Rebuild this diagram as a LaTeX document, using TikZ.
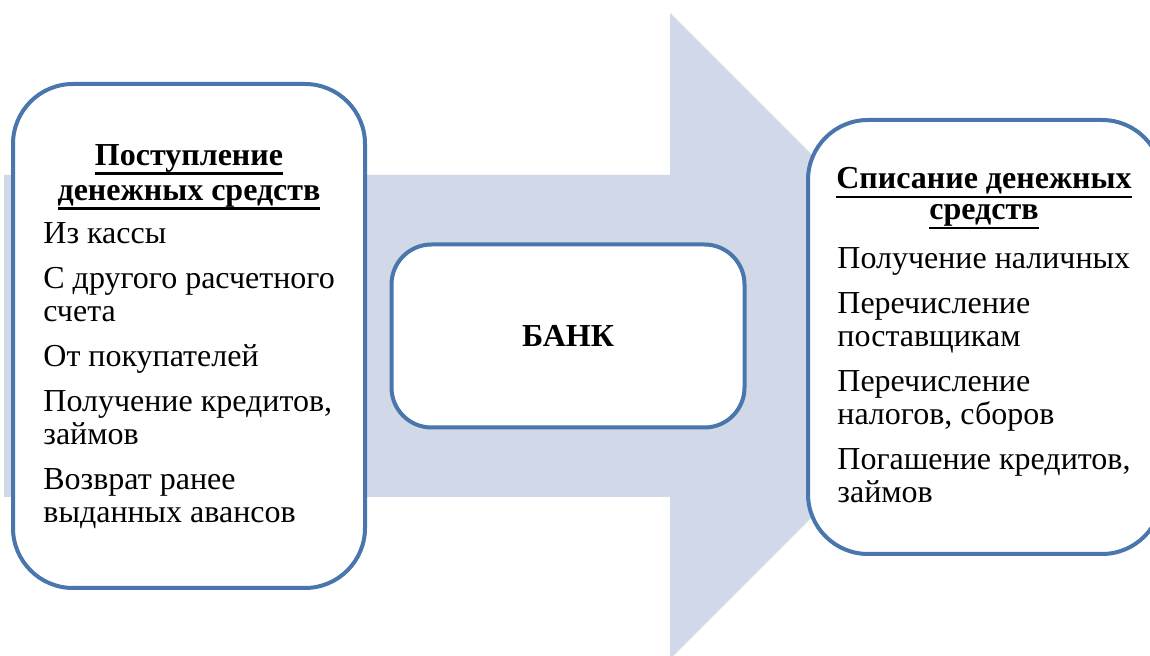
\documentclass[tikz,border=0pt]{standalone}
\usepackage{fontspec}
\setmainfont{Liberation Serif}
\definecolor{rimblue}{HTML}{4A76AE}
\definecolor{flowgray}{HTML}{D1D8E7}
\newcommand{\undl}[1]{\setbox0\hbox{#1}\rlap{\rule[-4.7pt]{\wd0}{1.2pt}}\box0}

\begin{document}
\begin{tikzpicture}[x=0.5pt,y=-0.5pt,
    rbox/.style={draw=rimblue,line width=2pt,fill=white,rounded corners=30pt,inner sep=0pt},
    head/.style={font=\fontsize{16}{17.5}\selectfont\bfseries,align=center,inner sep=0pt,anchor=north},
    items/.style={font=\fontsize{16}{16.5}\selectfont,align=left,inner sep=0pt,anchor=north west}]
  \useasboundingbox (0,0) rectangle (1150,656);
  % wide arrow behind the boxes
  \fill[flowgray] (4,175) -- (670,175) -- (670,13) -- (993,336) -- (670,659) -- (670,497) -- (4,497) -- cycle;
  % boxes
  \node[rbox,minimum width=176pt,minimum height=252pt] (inbox) at (189,336) {};
  \node[rbox,rounded corners=20pt,minimum width=176.5pt,minimum height=91.5pt,
        font=\fontsize{16}{18}\selectfont\bfseries] (bank) at (568,336) {БАНК};
  \node[rbox,minimum width=177pt,minimum height=217pt] (outbox) at (985,337) {};
  % left box text
  \node[head] (inhead) at (189,144) {\undl{Поступление}\\\undl{денежных средств}};
  \node[items] (initems) at (43,222) {Из кассы\\[6pt]
    С другого расчетного\\счета\\[6pt]
    От покупателей\\[6pt]
    Получение кредитов,\\займов\\[6pt]
    Возврат ранее\\выданных авансов};
  % right box text
  \node[head,font=\fontsize{16}{15.5}\selectfont\bfseries] (outhead) at (984,167) {\undl{Списание денежных}\\\undl{средств}};
  \node[items] (outitems) at (837,247) {Получение наличных\\[6pt]
    Перечисление\\поставщикам\\[6pt]
    Перечисление\\налогов, сборов\\[6pt]
    Погашение кредитов,\\займов};
\end{tikzpicture}
\end{document}
